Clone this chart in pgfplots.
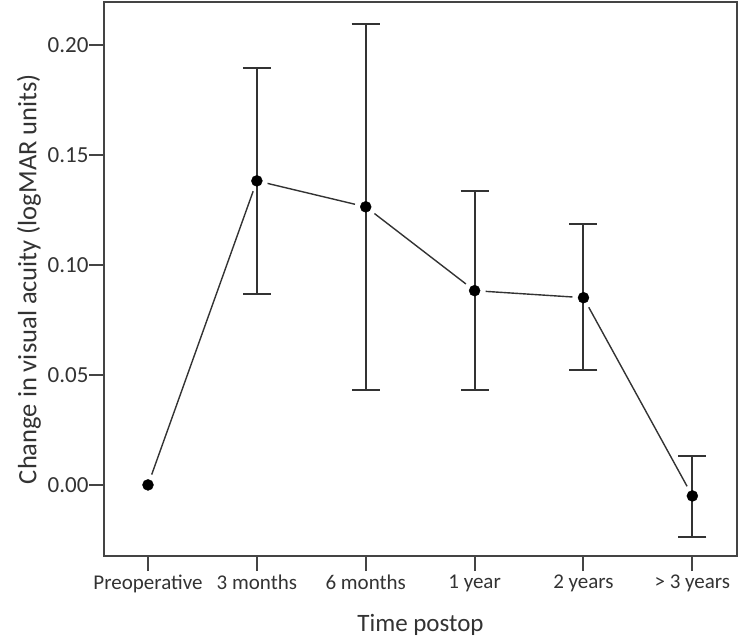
\documentclass[border=0pt]{standalone}
\usepackage{pgfplots}
\pgfplotsset{compat=1.18}
\usepackage{pgfplotstable}
\usepackage{fontspec}
\setmainfont{Carlito}
\definecolor{ink}{HTML}{333333}
\definecolor{boxc}{HTML}{444444}
\pgfplotstableread{
x y ep em
1 0.1382 0.0513 0.0514
2 0.1264 0.0831 0.0832
3 0.0883 0.0453 0.0451
4 0.0851 0.0335 0.0328
5 -0.0050 0.0182 0.0185
}\errdata
\begin{document}
\begin{tikzpicture}
\begin{axis}[
  name=ax,
  scale only axis,
  width=633pt, height=554pt,
  xmin=-0.404, xmax=5.41,
  ymin=-0.0323, ymax=0.2195,
  xtick={0,1,2,3,4,5},
  xticklabels={Preoperative,3 months,6 months,1 year,2 years,> 3 years},
  ytick={0,0.05,0.1,0.15,0.2},
  yticklabel style={/pgf/number format/fixed,/pgf/number format/fixed zerofill,/pgf/number format/precision=2, font=\fontsize{23}{27}\selectfont, xshift=3pt},
  /pgf/number format/assume math mode=true,
  tick align=outside,
  major tick length=15pt,
  tick style={boxc, line width=2pt},
  axis line style={boxc, line width=2pt},
  xtick pos=bottom, ytick pos=left,
  tick label style={font=\fontsize{21}{25}\selectfont, text=ink},
  label style={font=\fontsize{25}{30}\selectfont, text=ink},
  xlabel={Time postop},
  ylabel={Change in visual acuity (logMAR units)},
  xlabel style={yshift=-15pt},
  ylabel style={yshift=0pt, font=\fontsize{26.5}{31}\selectfont},
  clip=false,
]
% connecting segments (with gaps near points)
\addplot[ink, line width=1.4pt, shorten >=11pt, shorten <=11pt] coordinates {(0,0) (1,0.1382)};
\addplot[ink, line width=1.4pt, shorten >=11pt, shorten <=11pt] coordinates {(1,0.1382) (2,0.1264)};
\addplot[ink, line width=1.4pt, shorten >=11pt, shorten <=11pt] coordinates {(2,0.1264) (3,0.0883)};
\addplot[ink, line width=1.4pt, shorten >=11pt, shorten <=11pt] coordinates {(3,0.0883) (4,0.0851)};
\addplot[ink, line width=1.4pt, shorten >=11pt, shorten <=11pt] coordinates {(4,0.0851) (5,-0.0050)};
% error bars
\addplot[only marks, mark=none,
  error bars/.cd, y dir=both, y explicit,
  error bar style={ink, line width=2pt},
  error mark options={rotate=90, mark size=14pt, line width=2pt, ink}]
  table[x=x, y=y, y error plus=ep, y error minus=em] {\errdata};
% points
\addplot[only marks, mark=*, mark size=5.5pt, black] table[x=x, y=y] {\errdata};
\addplot[only marks, mark=*, mark size=5.5pt, black] coordinates {(0,0)};
\end{axis}
\useasboundingbox ([shift={(-104pt,-83pt)}]ax.south west) rectangle ([shift={(2pt,2pt)}]ax.north east);
\end{tikzpicture}
\end{document}
